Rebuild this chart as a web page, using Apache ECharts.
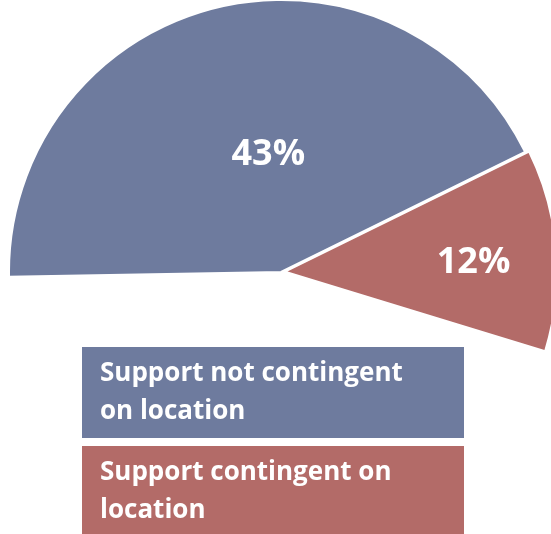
<!DOCTYPE html>
<html>
<head>
<meta charset="utf-8">
<script src="https://cdn.jsdelivr.net/npm/echarts@6/dist/echarts.min.js"></script>
<style>
  html, body { margin: 0; padding: 0; background: #fff; }
  #chart { width: 551px; height: 534px; }
</style>
</head>
<body>
<div id="chart"></div>
<script>
// 数据
var categories = ['Support not contingent on location', 'Support contingent on location'];
var legendText = ['Support not contingent\non location', 'Support contingent on\nlocation'];
var values = [43, 12];
var restValue = 45; // 未显示的部分
var colors = ['#6e7b9e', '#b36b68'];

// 标签微调
var labelShift = [{ dx: 20, dy: 18 }, { dx: 50, dy: 2 }, {}];

var pieData = [];
for (var i = 0; i < categories.length; i++) {
  pieData.push({
    name: categories[i],
    value: values[i],
    selected: i === 1,
    itemStyle: { color: colors[i] }
  });
}
pieData.push({
  name: 'rest',
  value: restValue,
  itemStyle: { color: 'rgba(0,0,0,0)', borderWidth: 0 },
  label: { show: false }
});

var legendData = [];
for (var j = 0; j < categories.length; j++) {
  legendData.push({
    name: categories[j],
    textStyle: { backgroundColor: colors[j] }
  });
}

var myChart = echarts.init(document.getElementById('chart'));
var option = {
  animation: false,
  legend: {
    orient: 'vertical',
    left: 77,
    top: 347,
    height: 400,
    padding: 0,
    itemGap: 8,
    itemWidth: 0,
    itemHeight: 0,
    icon: 'none',
    selectedMode: false,
    data: legendData,
    formatter: function (name) {
      return legendText[categories.indexOf(name)];
    },
    textStyle: {
      color: '#fff',
      fontFamily: 'Open Sans',
      fontWeight: 'bold',
      fontSize: 26,
      lineHeight: 38,
      width: 364,
      height: 76,
      padding: [9, 0, 6, 18]
    }
  },
  series: [{
    type: 'pie',
    center: [281, 272],
    radius: 272,
    startAngle: 181,
    clockwise: true,
    selectedMode: 'single',
    selectedOffset: 4,
    avoidLabelOverlap: false,
    emphasis: { disabled: true },
    itemStyle: { borderColor: '#fff', borderWidth: 2 },
    label: {
      show: true,
      position: 'inside',
      formatter: '{c}%',
      color: '#fff',
      fontFamily: 'Open Sans',
      fontWeight: 'bold',
      fontSize: 36
    },
    labelLine: { show: false },
    labelLayout: function (params) {
      return labelShift[params.dataIndex];
    },
    data: pieData
  }]
};
myChart.setOption(option);
</script>
</body>
</html>
